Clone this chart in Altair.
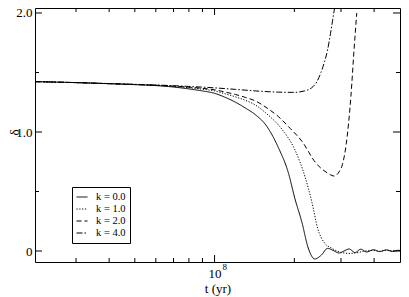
import altair as alt
import pandas as pd

FONT = "Liberation Serif"

labels = ["k = 0.0", "k = 1.0", "k = 2.0", "k = 4.0"]

t0 = [2.1e7, 3.0e7, 4.0e7, 5.0e7, 6.0e7, 7.0e7, 8.0e7, 9.0e7, 1.0e8, 1.1e8, 1.2e8, 1.31e8,
      1.43e8, 1.56e8, 1.74e8, 1.90e8, 2.01e8, 2.14e8, 2.25e8, 2.39e8, 2.53e8, 2.67e8, 2.83e8,
      2.95e8, 3.08e8, 3.22e8, 3.39e8, 3.56e8, 3.75e8, 3.98e8, 4.2e8, 4.45e8, 4.68e8, 4.93e8, 5.01e8]
d0 = [1.423, 1.415, 1.406, 1.398, 1.390, 1.378, 1.362, 1.345, 1.325, 1.290, 1.250, 1.200,
      1.143, 1.060, 0.870, 0.655, 0.440, 0.235, 0.034, -0.067, -0.034, 0.022, 0.000,
      -0.017, 0.000, 0.017, -0.013, 0.015, -0.008, 0.011, -0.005, 0.009, -0.003, 0.006, 0.005]

t1 = [2.1e7, 3.0e7, 4.0e7, 5.0e7, 6.0e7, 7.0e7, 8.0e7, 9.0e7, 1.0e8, 1.1e8, 1.2e8, 1.31e8,
      1.43e8, 1.56e8, 1.80e8, 2.01e8, 2.19e8, 2.33e8, 2.45e8, 2.60e8, 2.76e8, 2.90e8, 3.08e8,
      3.27e8, 3.44e8, 3.66e8, 3.98e8, 4.2e8, 4.45e8, 4.72e8, 5.01e8]
d1 = [1.423, 1.415, 1.406, 1.399, 1.392, 1.383, 1.372, 1.360, 1.345, 1.320, 1.295, 1.265,
      1.225, 1.160, 1.020, 0.850, 0.630, 0.410, 0.190, 0.067, 0.025, 0.000, -0.017,
      -0.020, -0.015, -0.002, 0.004, -0.002, 0.007, 0.000, 0.004]

t2 = [2.1e7, 3.0e7, 4.0e7, 5.0e7, 6.0e7, 7.0e7, 8.0e7, 9.0e7, 1.0e8, 1.1e8, 1.2e8, 1.31e8,
      1.43e8, 1.58e8, 1.74e8, 1.93e8, 2.14e8, 2.41e8, 2.67e8, 2.83e8, 2.95e8, 3.04e8, 3.14e8,
      3.27e8, 3.36e8, 3.44e8]
d2 = [1.423, 1.415, 1.406, 1.399, 1.393, 1.386, 1.377, 1.367, 1.355, 1.335, 1.315, 1.290,
      1.260, 1.200, 1.130, 1.030, 0.920, 0.740, 0.655, 0.630, 0.665, 0.730, 0.900,
      1.300, 1.690, 2.000]

t3 = [2.1e7, 3.0e7, 4.0e7, 5.0e7, 6.0e7, 7.0e7, 8.0e7, 9.0e7, 1.0e8, 1.2e8, 1.43e8, 1.74e8,
      2.0e8, 2.18e8, 2.32e8, 2.43e8, 2.52e8, 2.60e8, 2.67e8, 2.74e8, 2.79e8, 2.87e8]
d3 = [1.423, 1.415, 1.407, 1.401, 1.395, 1.389, 1.383, 1.377, 1.371, 1.358, 1.345, 1.335,
      1.333, 1.345, 1.370, 1.420, 1.500, 1.590, 1.690, 1.830, 1.940, 2.110]

x_minor_ticks = [3e7, 4e7, 5e7, 6e7, 7e7, 8e7, 9e7, 2e8, 3e8, 4e8]
x_major_ticks = [1e8]
y_major_ticks = [0, 1, 2]
y_minor_ticks = [0.5, 1.5]

rows = []
for lab, ts, ds in zip(labels, [t0, t1, t2, t3], [d0, d1, d2, d3]):
    for t, d in zip(ts, ds):
        rows.append({"t": t, "delta": d, "k": lab})
df = pd.DataFrame(rows)

W, H = 365, 254
xscale = alt.Scale(type="log", domain=[2.1e7, 5.01e8], nice=False)
yscale = alt.Scale(domain=[-0.0924, 2.042], nice=False, zero=False)
dashes = [[1, 0], [1.2, 1.6], [5, 3], [6, 2, 1.5, 2]]

xaxis = alt.Axis(
    values=[1e8], labelExpr="'10'", ticks=False, domain=False, grid=False,
    labelFont=FONT, labelFontSize=13, labelPadding=5, labelColor="black",
    title="t (yr)", titleFont=FONT, titleFontSize=13, titleFontWeight="normal",
    titlePadding=2, titleColor="black")
yaxis = alt.Axis(
    values=[0, 1, 2], labelExpr="datum.value == 0 ? '0' : format(datum.value, '.1f')",
    ticks=False, domain=False, grid=False,
    labelFont=FONT, labelFontSize=13, labelPadding=3, labelColor="black",
    title="δ", titleFont=FONT, titleFontSize=13, titleFontWeight="normal",
    titleAngle=270, titleBaseline="middle", titleAlign="center",
    titleX=-21, titleY=124, titleColor="black")

X = alt.X("t:Q", scale=xscale, axis=xaxis, title="t (yr)")
Y = alt.Y("delta:Q", scale=yscale, axis=yaxis, title="δ")

lines = alt.Chart(df).mark_line(
    color="black", strokeWidth=1, clip=True, interpolate="monotone", strokeCap="butt"
).encode(
    x=X, y=Y,
    strokeDash=alt.StrokeDash("k:N", scale=alt.Scale(domain=labels, range=dashes), title=None,
        legend=alt.Legend(orient="none", legendX=37, legendY=179, direction="vertical",
                          padding=4, strokeColor="black", fillColor="white",
                          symbolType="stroke", symbolSize=121, symbolStrokeWidth=1,
                          symbolStrokeColor="black", labelFont=FONT, labelFontSize=10.5,
                          labelColor="black", labelOffset=8, rowPadding=-2)),
)


def xticks(vals, length):
    d = pd.DataFrame({"t": vals})
    bot = alt.Chart(d).mark_rule(color="black", strokeWidth=1).encode(
        x=X, y=alt.value(H), y2=alt.value(H - length))
    top = alt.Chart(d).mark_rule(color="black", strokeWidth=1).encode(
        x=X, y=alt.value(0), y2=alt.value(length))
    return [bot, top]


def yticks(vals, length):
    d = pd.DataFrame({"delta": vals})
    left = alt.Chart(d).mark_rule(color="black", strokeWidth=1).encode(
        y=Y, x=alt.value(0), x2=alt.value(length))
    right = alt.Chart(d).mark_rule(color="black", strokeWidth=1).encode(
        y=Y, x=alt.value(W), x2=alt.value(W - length))
    return [left, right]


sup = alt.Chart(pd.DataFrame({"t": [1e8], "s": ["8"]})).mark_text(
    font=FONT, fontSize=9, align="left", baseline="alphabetic", dx=8, color="black"
).encode(x=X, y=alt.value(H + 8), text="s:N")

layers = [lines] + xticks(x_minor_ticks, 4) + xticks(x_major_ticks, 7) \
    + yticks(y_minor_ticks, 4) + yticks(y_major_ticks, 7) + [sup]

chart = alt.layer(*layers).properties(
    width=W, height=H,
    background="white",
    autosize=alt.AutoSizeParams(type="none"),
    padding={"left": 27, "top": 0, "right": 1, "bottom": 35},
).configure_view(stroke="black", strokeWidth=1)

chart.save("out.html", embed_options={"renderer": "svg", "actions": False})
